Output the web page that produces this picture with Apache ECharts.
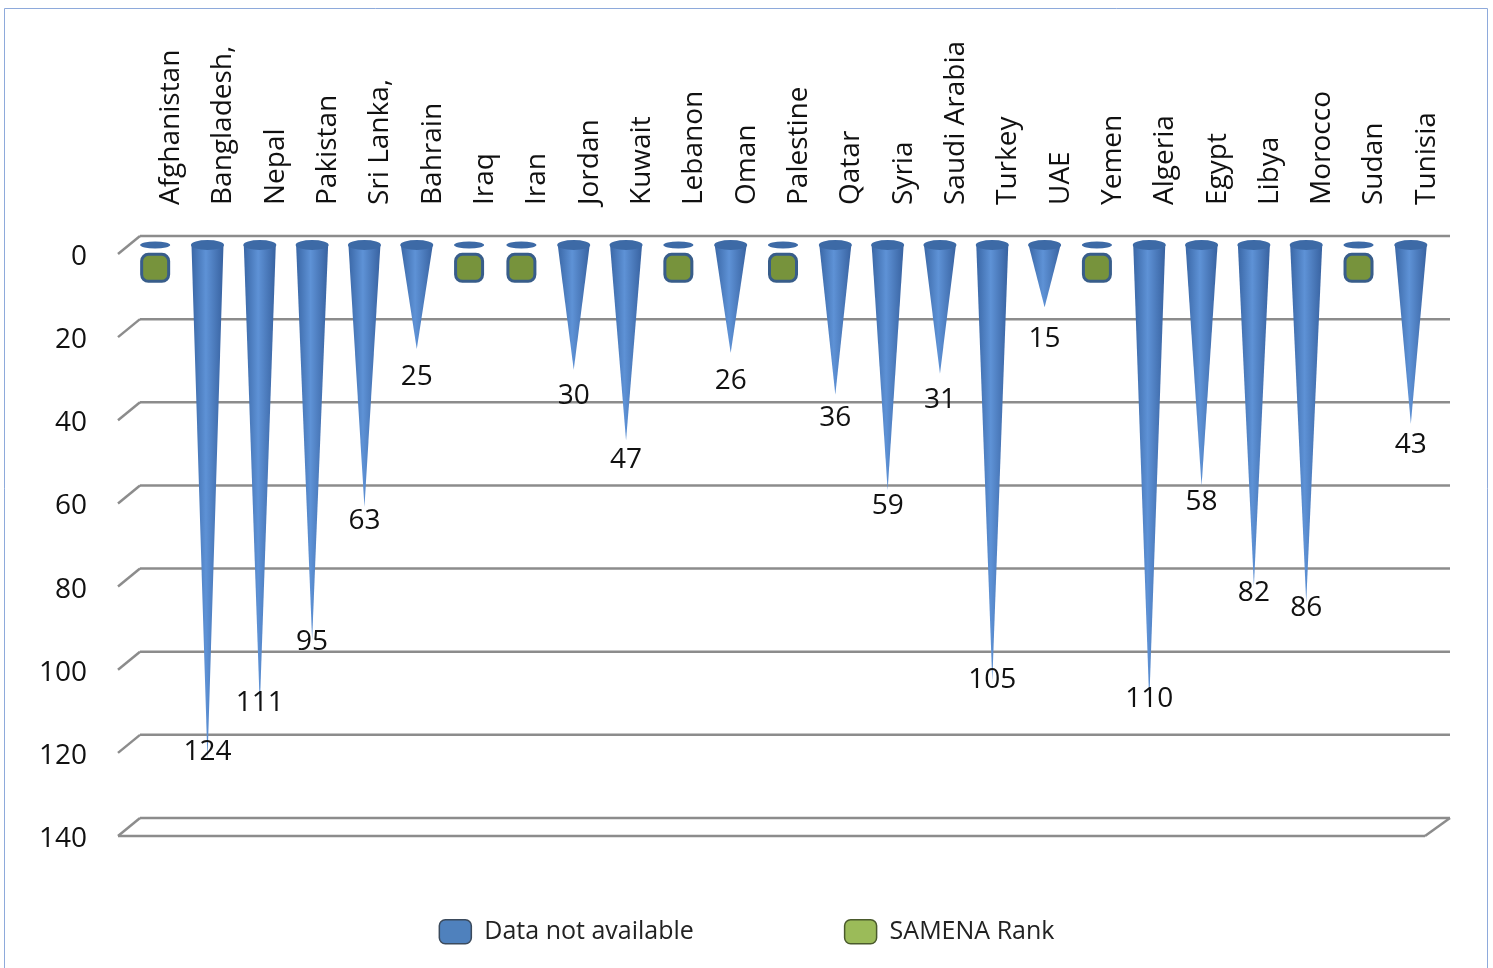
<!DOCTYPE html>
<html>
<head>
<meta charset="utf-8">
<script src="https://cdn.jsdelivr.net/npm/echarts@6/dist/echarts.min.js"></script>
<style>
  html, body { margin: 0; padding: 0; background: #fff; }
  #chart { width: 1493px; height: 968px; }
</style>
</head>
<body>
<div id="chart"></div>
<script>
const countries = ['Afghanistan', 'Bangladesh,', 'Nepal', 'Pakistan', 'Sri Lanka,', 'Bahrain', 'Iraq', 'Iran',
  'Jordan', 'Kuwait', 'Lebanon', 'Oman', 'Palestine', 'Qatar', 'Syria', 'Saudi Arabia', 'Turkey', 'UAE',
  'Yemen', 'Algeria', 'Egypt', 'Libya', 'Morocco', 'Sudan', 'Tunisia'];
const notAvailable = [null, 124, 111, 95, 63, 25, null, null, 30, 47, null, 26, null, 36, 59, 31, 105, 15,
  null, 110, 58, 82, 86, null, 43];
const samenaRank = [5.5, null, null, null, null, null, 5.5, 5.5, null, null, 5.5, null, 5.5, null, null, null, null, null,
  5.5, null, null, null, null, 5.5, null];
const yTicks = [0, 20, 40, 60, 80, 100, 120, 140];

const font = '"Open Sans", "Noto Sans", sans-serif';
const lineColor = '#8c8c8c';

const chart = echarts.init(document.getElementById('chart'));

// 3D style gridlines: back line, left diagonal, and floor for the last tick
function renderGrid(params, api) {
  const cs = params.coordSys;
  const v = api.value(1);
  const y = api.coord([0, v])[1];
  const left = cs.x, right = cs.x + cs.width;
  const style = { stroke: lineColor, lineWidth: 2.5, fill: null };
  const children = [
    { type: 'line', shape: { x1: left + 11, y1: y - 9, x2: right + 13, y2: y - 9 }, style },
    { type: 'line', shape: { x1: left - 11, y1: y + 9, x2: left + 11, y2: y - 9 }, style }
  ];
  if (v === yTicks[yTicks.length - 1]) {
    children.push({ type: 'line', shape: { x1: left - 11, y1: y + 9, x2: right - 12, y2: y + 9 }, style });
    children.push({ type: 'line', shape: { x1: right - 12, y1: y + 9, x2: right + 13, y2: y - 9 }, style });
  }
  return { type: 'group', children };
}

const coneColor = new echarts.graphic.LinearGradient(0, 0, 1, 0, [
  { offset: 0, color: '#3a67a6' },
  { offset: 0.45, color: '#5e92d6' },
  { offset: 1, color: '#3862a0' }
]);

const option = {
  animation: false,
  backgroundColor: '#fff',
  textStyle: { fontFamily: font },
  graphic: [{
    type: 'rect',
    shape: { x: 4.5, y: 8.5, width: 1483, height: 990 },
    style: { fill: null, stroke: '#8eaadb', lineWidth: 1 }
  }],
  legend: {
    left: 'center',
    top: 914,
    itemWidth: 32,
    itemHeight: 24,
    itemGap: 150,
    textStyle: { fontSize: 25, color: '#222', fontFamily: font, padding: [0, 0, 0, 8] },
    data: [
      { name: 'Data not available', icon: 'roundRect', itemStyle: { color: '#4f81bd', borderColor: '#3b4a5c', borderWidth: 1.5 } },
      { name: 'SAMENA Rank', icon: 'roundRect', itemStyle: { color: '#9bbb59', borderColor: '#4a5a2c', borderWidth: 1.5 } }
    ]
  },
  grid: { left: 129, right: 56, top: 245, bottom: 141 },
  xAxis: {
    type: 'category',
    position: 'top',
    data: countries,
    axisLine: { show: false },
    axisTick: { show: false },
    axisLabel: {
      interval: 0,
      rotate: 90,
      margin: 40,
      fontSize: 28,
      color: '#111',
      fontFamily: font,
      verticalAlign: 'top',
      lineHeight: 32
    }
  },
  yAxis: {
    type: 'value',
    inverse: true,
    min: 0,
    max: 140,
    interval: 20,
    axisLine: { show: false },
    axisTick: { show: false },
    splitLine: { show: false },
    axisLabel: {
      margin: 42,
      fontSize: 28,
      color: '#111',
      fontFamily: font,
      verticalAlign: 'top',
      lineHeight: 24
    }
  },
  series: [
    {
      type: 'custom',
      silent: true,
      clip: false,
      z: 1,
      renderItem: renderGrid,
      data: yTicks.map(v => [0, v])
    },
    {
      name: 'Data not available',
      type: 'pictorialBar',
      z: 3,
      symbol: 'path://M50,0 L100,1000 L0,1000 Z',
      symbolSize: [32, '100%'],
      symbolPosition: 'start',
      itemStyle: { color: coneColor },
      label: {
        show: true,
        position: 'bottom',
        fontSize: 28,
        color: '#111',
        fontFamily: font
      },
      data: notAvailable.map(v => v == null ? null : { value: v, label: { offset: [0, 18 - 0.365 * v] } })
    },
    {
      name: 'caps',
      type: 'scatter',
      z: 4,
      silent: true,
      symbol: 'circle',
      symbolSize: (val, p) => notAvailable[p.dataIndex] == null ? [30, 7] : [33, 10],
      itemStyle: { color: '#3d6aa6', opacity: 1 },
      data: countries.map(() => 0)
    },
    {
      name: 'SAMENA Rank',
      type: 'scatter',
      z: 4,
      symbol: 'roundRect',
      symbolSize: 27,
      itemStyle: { color: '#77933c', borderColor: '#385d8a', borderWidth: 3, opacity: 1 },
      data: samenaRank
    }
  ]
};

chart.setOption(option);
</script>
</body>
</html>
